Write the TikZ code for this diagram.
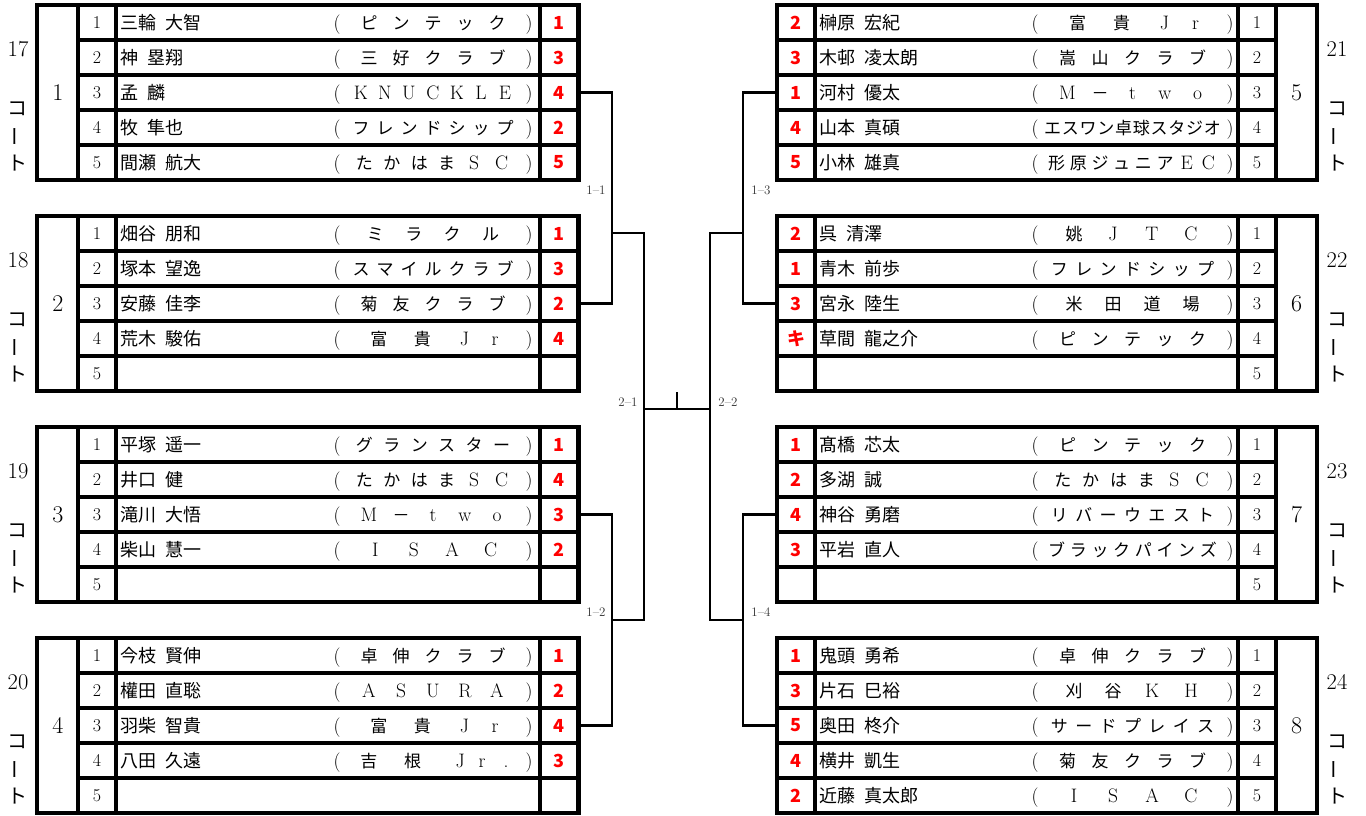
\documentclass[tikz,border=0pt]{standalone}
\usepackage{fontspec}
\newfontfamily\cjk{Noto Sans CJK JP}
\newcommand\gap{\hspace{0.5em}}
\newcommand\R[1]{{\rmfamily\fontsize{19.5}{21}\selectfont #1}}
\tikzset{
  every node/.style={inner sep=0pt, outer sep=0pt},
  outerln/.style={line width=4.6pt},
  colln/.style={line width=4.2pt},
  rowln/.style={line width=3.3pt},
  brk/.style={line width=2.8pt},
  nm/.style={anchor=base west, font=\cjk\fontsize{18}{20}\selectfont},
  cc/.style={anchor=base, font=\cjk\fontsize{17}{20}\selectfont},
  num/.style={font=\fontsize{18}{20}\selectfont},
  grp/.style={font=\fontsize{24}{26}\selectfont},
  crt/.style={font=\fontsize{22.5}{24}\selectfont},
  crtj/.style={font=\cjk\fontsize{20}{24}\selectfont},
  sc/.style={text=red, font=\cjk\bfseries\fontsize{18}{20}\selectfont},
  lbl/.style={font=\fontsize{13}{14}\selectfont, text=black!80},
}
% club text distributed evenly between the parentheses
\newcommand\club[6]{%
  \node[cc] (#4o) at (#1,#3) {\R{(}};
  \node[cc] (#4c) at (#2,#3) {\R{)}};
  \foreach \c [count=\i] in {#6} {
    \node[cc] (#4-\i) at ({#1+\i*(#2-#1)/(#5+1)},#3) {\c};
  }
}
\newcommand\clubp[5]{%
  \node[cc] (#4o) at (#1,#3) {\R{(}};
  \node[cc] (#4c) at (#2,#3) {\R{)}};
  \foreach \f/\c [count=\i] in {#5} {
    \node[cc] (#4-\i) at ({#1+\f*(#2-#1)},#3) {\c};
  }
}
\newcommand\lclub[5]{\club{337}{529}{#1+35*#3-10.9}{L#2r#3}{#4}{#5}}
\newcommand\rclub[5]{\club{1035}{1230}{#1+35*#3-10.9}{R#2r#3}{#4}{#5}}
\newcommand\lclubp[4]{\clubp{337}{529}{#1+35*#3-10.9}{L#2r#3}{#4}}
\newcommand\rclubp[4]{\clubp{1035}{1230}{#1+35*#3-10.9}{R#2r#3}{#4}}
\newcommand\lrow[5]{%
  \node[nm] (L#2n#3) at (120,#1+35*#3-10.9) {#4};
  \node[sc] (L#2s#3) at (559.25,#1+35*#3-17.5) {#5};
}
\newcommand\rrow[5]{%
  \node[nm] (R#2n#3) at (819,#1+35*#3-10.9) {#4};
  \node[sc] (R#2s#3) at (796,#1+35*#3-17.5) {#5};
}
\newcommand\lblock[3]{%
  \draw[outerln] (37,#1) rectangle (578.5,#1+175);
  \draw[colln] (78,#1) -- (78,#1+175) (116,#1) -- (116,#1+175) (540,#1) -- (540,#1+175);
  \foreach \k in {1,2,3,4} \draw[rowln] (78,#1+35*\k) -- (578.5,#1+35*\k);
  \node[grp] (G#2) at (58,#1+87.5) {#2};
  \node[crt] (C#2) at (18,#1+44) {#3};
  \node[crtj] (C#2a) at (18,#1+104) {コ};
  \node[crtj, rotate=90] (C#2b) at (18,#1+131) {ー};
  \node[crtj] (C#2c) at (18,#1+158) {ト};
  \foreach \k in {1,...,5} \node[num] (N#2-\k) at (97,#1+35*\k-17.5) {\k};
}
\newcommand\rblock[3]{%
  \draw[outerln] (777,#1) rectangle (1317,#1+175);
  \draw[colln] (815,#1) -- (815,#1+175) (1238,#1) -- (1238,#1+175) (1276,#1) -- (1276,#1+175);
  \foreach \k in {1,2,3,4} \draw[rowln] (777,#1+35*\k) -- (1276,#1+35*\k);
  \node[grp] (G#2) at (1296.5,#1+87.5) {#2};
  \node[crt] (C#2) at (1337,#1+44) {#3};
  \node[crtj] (C#2a) at (1337,#1+104) {コ};
  \node[crtj, rotate=90] (C#2b) at (1337,#1+131) {ー};
  \node[crtj] (C#2c) at (1337,#1+158) {ト};
  \foreach \k in {1,...,5} \node[num] (N#2-\k) at (1257,#1+35*\k-17.5) {\k};
}
\begin{document}
\begin{tikzpicture}[x=1pt,y=-1pt]
\fill[white] (0,0) rectangle (1366,816);
\useasboundingbox (0,0) rectangle (1366,816);
% ---------- left side ----------
\lblock{5}{1}{17}
\lrow{5}{1}{1}{三輪\gap 大智}{1}   \lclub{5}{1}{1}{5}{ピ,ン,テ,ッ,ク}
\lrow{5}{1}{2}{神\gap 塁翔}{3}     \lclub{5}{1}{2}{5}{三,好,ク,ラ,ブ}
\lrow{5}{1}{3}{孟\gap 麟}{4}       \lclub{5}{1}{3}{7}{\R{K},\R{N},\R{U},\R{C},\R{K},\R{L},\R{E}}
\lrow{5}{1}{4}{牧\gap 隼也}{2}     \lclub{5}{1}{4}{7}{フ,レ,ン,ド,シ,ッ,プ}
\lrow{5}{1}{5}{間瀬\gap 航大}{5}   \lclub{5}{1}{5}{6}{た,か,は,ま,\R{S},\R{C}}

\lblock{216}{2}{18}
\lrow{216}{2}{1}{畑谷\gap 朋和}{1} \lclub{216}{2}{1}{4}{ミ,ラ,ク,ル}
\lrow{216}{2}{2}{塚本\gap 望逸}{3} \lclub{216}{2}{2}{7}{ス,マ,イ,ル,ク,ラ,ブ}
\lrow{216}{2}{3}{安藤\gap 佳李}{2} \lclub{216}{2}{3}{5}{菊,友,ク,ラ,ブ}
\lrow{216}{2}{4}{荒木\gap 駿佑}{4} \lclubp{216}{2}{4}{0.218/富,0.444/貴,0.664/\R{J},0.823/\R{r}}

\lblock{427}{3}{19}
\lrow{427}{3}{1}{平塚\gap 遥一}{1} \lclub{427}{3}{1}{6}{グ,ラ,ン,ス,タ,ー}
\lrow{427}{3}{2}{井口\gap 健}{4}   \lclub{427}{3}{2}{6}{た,か,は,ま,\R{S},\R{C}}
\lrow{427}{3}{3}{滝川\gap 大悟}{3} \lclub{427}{3}{3}{5}{\R{M},－,\R{t},\R{w},\R{o}}
\lrow{427}{3}{4}{柴山\gap 慧一}{2} \lclub{427}{3}{4}{4}{\R{I},\R{S},\R{A},\R{C}}

\lblock{638}{4}{20}
\lrow{638}{4}{1}{今枝\gap 賢伸}{1} \lclub{638}{4}{1}{5}{卓,伸,ク,ラ,ブ}
\lrow{638}{4}{2}{權田\gap 直聡}{2} \lclub{638}{4}{2}{5}{\R{A},\R{S},\R{U},\R{R},\R{A}}
\lrow{638}{4}{3}{羽柴\gap 智貴}{4} \lclubp{638}{4}{3}{0.218/富,0.444/貴,0.664/\R{J},0.823/\R{r}}
\lrow{638}{4}{4}{八田\gap 久遠}{3} \lclubp{638}{4}{4}{0.166/吉,0.394/根,0.642/\R{J},0.756/\R{r},0.88/\R{.}}

% ---------- right side ----------
\rblock{5}{5}{21}
\rrow{5}{5}{1}{榊原\gap 宏紀}{2}   \rclubp{5}{5}{1}{0.218/富,0.444/貴,0.664/\R{J},0.823/\R{r}}
\rrow{5}{5}{2}{木邨\gap 凌太朗}{3} \rclub{5}{5}{2}{5}{嵩,山,ク,ラ,ブ}
\rrow{5}{5}{3}{河村\gap 優太}{1}   \rclub{5}{5}{3}{5}{\R{M},－,\R{t},\R{w},\R{o}}
\rrow{5}{5}{4}{山本\gap 真碩}{4}   \rclub{5}{5}{4}{10}{エ,ス,ワ,ン,卓,球,ス,タ,ジ,オ}
\rrow{5}{5}{5}{小林\gap 雄真}{5}   \rclub{5}{5}{5}{8}{形,原,ジ,ュ,ニ,ア,\R{E},\R{C}}

\rblock{216}{6}{22}
\rrow{216}{6}{1}{呉\gap 清澤}{2}     \rclub{216}{6}{1}{4}{姚,\R{J},\R{T},\R{C}}
\rrow{216}{6}{2}{青木\gap 前歩}{1}   \rclub{216}{6}{2}{7}{フ,レ,ン,ド,シ,ッ,プ}
\rrow{216}{6}{3}{宮永\gap 陸生}{3}   \rclub{216}{6}{3}{4}{米,田,道,場}
\rrow{216}{6}{4}{草間\gap 龍之介}{キ} \rclub{216}{6}{4}{5}{ピ,ン,テ,ッ,ク}

\rblock{427}{7}{23}
\rrow{427}{7}{1}{髙橋\gap 芯太}{1} \rclub{427}{7}{1}{5}{ピ,ン,テ,ッ,ク}
\rrow{427}{7}{2}{多湖\gap 誠}{2}   \rclub{427}{7}{2}{6}{た,か,は,ま,\R{S},\R{C}}
\rrow{427}{7}{3}{神谷\gap 勇磨}{4} \rclub{427}{7}{3}{7}{リ,バ,ー,ウ,エ,ス,ト}
\rrow{427}{7}{4}{平岩\gap 直人}{3} \rclub{427}{7}{4}{8}{ブ,ラ,ッ,ク,パ,イ,ン,ズ}

\rblock{638}{8}{24}
\rrow{638}{8}{1}{鬼頭\gap 勇希}{1}   \rclub{638}{8}{1}{5}{卓,伸,ク,ラ,ブ}
\rrow{638}{8}{2}{片石\gap 巳裕}{3}   \rclub{638}{8}{2}{4}{刈,谷,\R{K},\R{H}}
\rrow{638}{8}{3}{奥田\gap 柊介}{5}   \rclub{638}{8}{3}{7}{サ,ー,ド,プ,レ,イ,ス}
\rrow{638}{8}{4}{横井\gap 凱生}{4}   \rclub{638}{8}{4}{5}{菊,友,ク,ラ,ブ}
\rrow{638}{8}{5}{近藤\gap 真太郎}{2} \rclub{638}{8}{5}{4}{\R{I},\R{S},\R{A},\R{C}}

% ---------- bracket ----------
\coordinate (L1o) at (578.5,92.5);
\coordinate (L2o) at (578.5,303.5);
\coordinate (L3o) at (578.5,514.5);
\coordinate (L4o) at (578.5,725.5);
\coordinate (R5o) at (777,92.5);
\coordinate (R6o) at (777,303.5);
\coordinate (R7o) at (777,514.5);
\coordinate (R8o) at (777,725.5);
\coordinate (m11) at (612,233);
\coordinate (m12) at (612,620);
\coordinate (m13) at (743,233);
\coordinate (m14) at (743,620);
\coordinate (s1) at (644,409);
\coordinate (s2) at (710,409);
\coordinate (tk) at (677,409);
\coordinate (tkt) at (677,392);
\draw[brk] (L1o) -| (m11) |- (L2o);
\draw[brk] (L3o) -| (m12) |- (L4o);
\draw[brk] (R5o) -| (m13) |- (R6o);
\draw[brk] (R7o) -| (m14) |- (R8o);
\draw[brk] (m11) -| (s1) |- (m12);
\draw[brk] (m13) -| (s2) |- (m14);
\draw[brk] (s1) -- (s2);
\draw[brk] (tk) -- (tkt);
\node[lbl] (l11) at (596,190) {1–1};
\node[lbl] (l12) at (596,612) {1–2};
\node[lbl] (l13) at (761,190) {1–3};
\node[lbl] (l14) at (761,612) {1–4};
\node[lbl] (l21) at (628,402) {2–1};
\node[lbl] (l22) at (728,402) {2–2};
\end{tikzpicture}
\end{document}
